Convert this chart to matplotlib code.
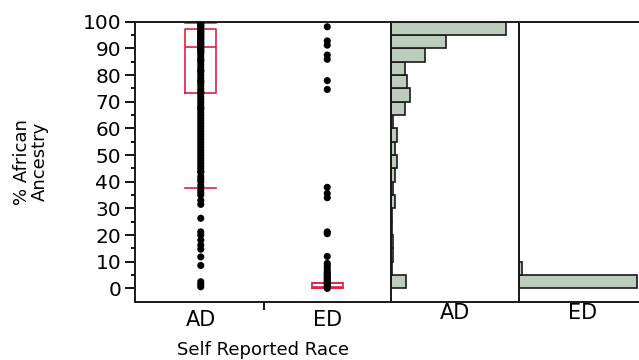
import matplotlib
matplotlib.use("Agg")
import matplotlib.pyplot as plt
import numpy as np

# ---------------- data ----------------
categories = ["AD", "ED"]
cat_pos = [1, 2]

ad_values = [100, 99.5, 99, 98.5, 98, 97.5, 97, 96.5, 96, 95.5, 95, 94.5, 94, 93.5,
             93, 92.5, 92, 91.5, 91, 90.5, 90, 89.5, 89, 88.5, 88, 87, 86, 85.5, 85,
             84, 83, 82, 81.5, 81, 80, 79, 78, 77.5, 77, 76, 75, 74, 73.5, 73, 72, 71,
             70, 69, 68, 67.5, 67, 66, 65, 64, 63, 62, 61, 60, 59, 58, 57, 56, 55, 54,
             53, 52, 51, 50, 49, 48, 47, 46, 45, 44, 43.5, 42, 41, 40, 38.5, 37, 36,
             35, 33, 31.5, 26.3, 21.2, 20, 18.1, 16.2, 14.7, 11.8, 8.6, 2.5, 1.5, 0.6]
ed_values = [98.1, 92.8, 91.2, 87.5, 85.9, 77.9, 74.6, 37.9, 35.6, 34, 21.2, 20.5,
             12, 9.4, 8.5, 7.5, 6.5, 6, 5.5, 5, 4.5, 4, 3.5, 3, 2.5, 2, 1.5, 1, 0.5, 0]

# box plot summary (whislo, q1, med, q3, whishi)
ad_box = [37.5, 73.1, 90.6, 97.3, 99.6]
ed_box = [0.0, 0.3, 0.7, 2.1, 2.2]

# histogram (bins of 5 %, bar lengths)
bin_edges = [0, 5, 10, 15, 20, 25, 30, 35, 40, 45, 50, 55, 60, 65, 70, 75, 80, 85, 90, 95, 100]
ad_hist = [15, 1, 2.7, 2.7, 1, 1, 4.7, 2.7, 4.3, 6, 4, 6, 2.3, 14.7, 19.3, 16.3, 14.7, 34.3, 55.3, 115.7]
ed_hist = [118, 3, 0, 0, 0, 0, 0, 0, 0, 0, 0, 0, 0, 0, 0, 0, 0, 0, 0, 0]

# ---------------- style ----------------
RED = "#DC2347"
BAR = "#BDCDBD"
EDGE = "#1a1a1a"
W, H = 639, 360
fig = plt.figure(figsize=(W / 100, H / 100), dpi=100)

bottom = 58 / H
height = (302 - 21.7) / H
ylim = (-5.1, 100)

ax = fig.add_axes([135 / W, bottom, (390.5 - 135) / W, height])
h1 = fig.add_axes([390.5 / W, bottom, 128 / W, height])
h2 = fig.add_axes([518.5 / W, bottom, 128 / W, height])

# scatter
ax.scatter([cat_pos[0]] * len(ad_values), ad_values, s=26, color="black",
           edgecolors="none", zorder=3)
ax.scatter([cat_pos[1]] * len(ed_values), ed_values, s=26, color="black",
           edgecolors="none", zorder=3)

stats = []
for lab, b in zip(categories, [ad_box, ed_box]):
    stats.append(dict(label=lab, whislo=b[0], q1=b[1], med=b[2], q3=b[3],
                      whishi=b[4], fliers=[]))
lp = dict(color=RED, linewidth=1.2)
ax.bxp(stats, positions=cat_pos, widths=0.245, capwidths=0.245,
       boxprops=lp, whiskerprops=lp, capprops=lp, medianprops=lp,
       showfliers=False, manage_ticks=False, zorder=2)

ax.set_xlim(0.48, 2.5)
ax.set_ylim(*ylim)
ax.set_yticks(np.arange(0, 101, 10))
ax.set_yticks(np.arange(5, 100, 10), minor=True)
ax.tick_params(axis="y", which="major", length=7, width=1.3, pad=3, labelsize=14.5)
ax.tick_params(axis="y", which="minor", length=3, width=1.3)
ax.set_xticks(cat_pos)
ax.set_xticklabels(categories, fontsize=15)
ax.set_xticks([1.5], minor=True)
ax.tick_params(axis="x", which="major", length=0, pad=6)
ax.tick_params(axis="x", which="minor", length=6, width=1.3)
ax.set_ylabel("% African\nAncestry", fontsize=13, labelpad=24, linespacing=1.0)
ax.set_xlabel("Self Reported Race", fontsize=13, labelpad=8)

for hax, vals, lab in [(h1, ad_hist, "AD"), (h2, ed_hist, "ED")]:
    hax.barh(bin_edges[:-1], vals, height=5, align="edge", left=0,
             color=BAR, edgecolor=EDGE, linewidth=1.2)
    hax.set_xlim(0, 128)
    hax.set_ylim(*ylim)
    hax.set_xticks([])
    hax.set_yticks([])
    hax.set_xlabel(lab, fontsize=15, labelpad=1)

for a in (ax, h1, h2):
    for s in a.spines.values():
        s.set_linewidth(1.4)
        s.set_color(EDGE)

fig.savefig("out.png", dpi=100)
